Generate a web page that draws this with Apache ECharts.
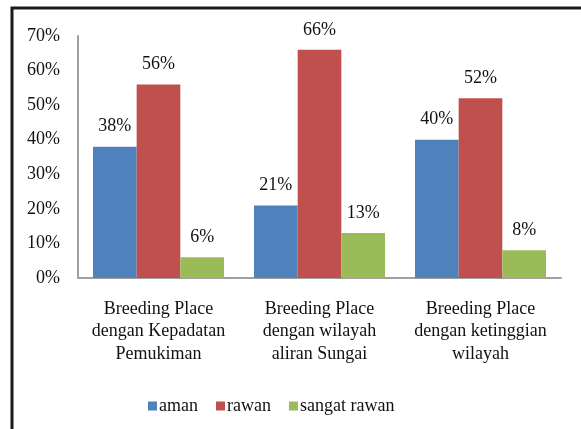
<!DOCTYPE html>
<html>
<head>
<meta charset="utf-8">
<script src="https://cdn.jsdelivr.net/npm/echarts@6/dist/echarts.min.js"></script>
<style>
  html, body { margin: 0; padding: 0; background: #fff; }
  #chart { width: 581px; height: 429px; }
</style>
</head>
<body>
<div id="chart"></div>
<script>
// kategori (sumbu x)
const categories = [
  'Breeding Place\ndengan Kepadatan\nPemukiman',
  'Breeding Place\ndengan wilayah\naliran Sungai',
  'Breeding Place\ndengan ketinggian\nwilayah'
]
const seriesNames = ['aman', 'rawan', 'sangat rawan']
// nilai persen per seri
const aman = [38, 21, 40]
const rawan = [56, 66, 52]
const sangatRawan = [6, 13, 8]
const yTicks = [0, 10, 20, 30, 40, 50, 60, 70]

const colors = ['#4F81BD', '#C0504D', '#9BBB59']
const fontFamily = '"Liberation Serif", "DejaVu Serif", serif'

const chart = echarts.init(document.getElementById('chart'))

const makeSeries = (name, data, idx) => ({
  name: name,
  type: 'bar',
  data: data,
  barGap: '0%',
  barCategoryGap: '18.6%',
  itemStyle: { color: colors[idx] },
  label: {
    show: true,
    position: 'top',
    distance: 11,
    formatter: '{c}%',
    color: '#111',
    fontFamily: fontFamily,
    fontSize: 18
  }
})

chart.setOption({
  animation: false,
  textStyle: { fontFamily: fontFamily },
  grid: {
    left: 78,
    right: 20,
    top: 36,
    bottom: 151
  },
  graphic: [
    // bingkai hitam kiri dan atas
    {
      type: 'polyline',
      shape: { points: [[12, 429], [12, 8], [581, 8]] },
      style: { stroke: '#1a1a1a', lineWidth: 3, fill: null }
    }
  ],
  legend: {
    data: seriesNames,
    left: 143,
    top: 392,
    itemWidth: 9,
    itemHeight: 9,
    itemGap: 18,
    icon: 'rect',
    textStyle: { fontFamily: fontFamily, fontSize: 18, color: '#111', padding: [0, 0, 0, -3] }
  },
  xAxis: {
    type: 'category',
    data: categories,
    axisLine: { lineStyle: { color: '#a0a0a0', width: 2 } },
    axisTick: { show: false },
    axisLabel: {
      interval: 0,
      color: '#111',
      fontFamily: fontFamily,
      fontSize: 18,
      lineHeight: 22.5,
      margin: 20
    }
  },
  yAxis: {
    type: 'value',
    min: yTicks[0],
    max: yTicks[yTicks.length - 1],
    interval: 10,
    axisLine: { show: true, lineStyle: { color: '#a0a0a0', width: 2 } },
    axisTick: { show: false },
    splitLine: { show: false },
    axisLabel: {
      formatter: '{value}%',
      color: '#111',
      fontFamily: fontFamily,
      fontSize: 18,
      margin: 18
    }
  },
  series: [
    makeSeries(seriesNames[0], aman, 0),
    makeSeries(seriesNames[1], rawan, 1),
    makeSeries(seriesNames[2], sangatRawan, 2)
  ]
})
</script>
</body>
</html>
